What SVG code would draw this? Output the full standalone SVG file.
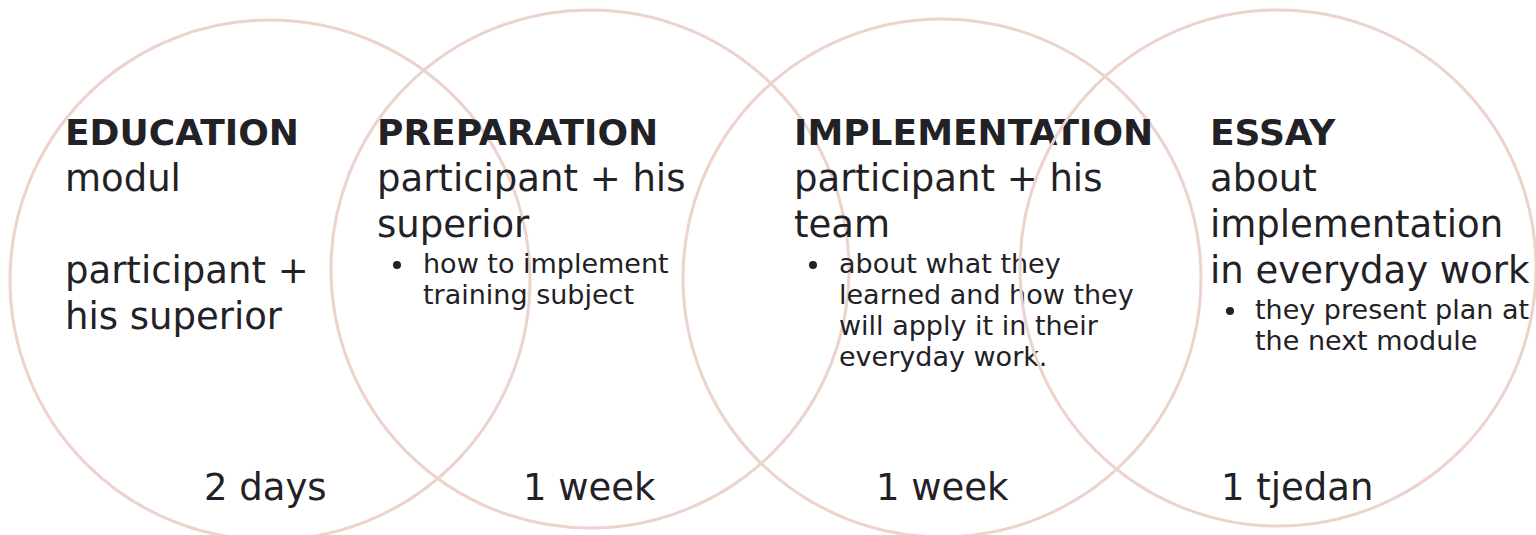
<svg xmlns="http://www.w3.org/2000/svg" width="1536" height="535" viewBox="0 0 1536 535">
<style>
.ring{fill:none;stroke:#ecd3cc;stroke-width:3}
.t{font-family:"DejaVu Sans","Liberation Sans",sans-serif;fill:#222125}
.h{font-size:36px;font-weight:bold}
.b{font-size:37px}
.s{font-size:27px}
.dot{fill:#222125}
</style>
<rect width="1536" height="535" fill="#ffffff"/>
<g id="connectors"></g>
<g id="node-education">
<circle class="ring" cx="270" cy="280" r="260"/>
<text class="t h" x="65" y="145">EDUCATION</text>
<text class="t b" x="65" y="191">modul</text>
<text class="t b" x="65" y="283">participant +</text>
<text class="t b" x="65" y="329">his superior</text>
<text class="t b" x="204" y="500">2 days</text>
</g>
<g id="node-preparation">
<circle class="ring" cx="590" cy="269" r="259"/>
<text class="t h" x="377" y="145">PREPARATION</text>
<text class="t b" x="377" y="191">participant + his</text>
<text class="t b" x="377" y="237">superior</text>
<circle class="dot" cx="397" cy="265" r="4"/>
<text class="t s" x="423" y="273">how to implement</text>
<text class="t s" x="423" y="304">training subject</text>
<text class="t b" x="523" y="500">1 week</text>
</g>
<g id="node-implementation">
<circle class="ring" cx="942" cy="278" r="259"/>
<text class="t h" x="794" y="145">IMPLEMENTATION</text>
<text class="t b" x="794" y="191">participant + his</text>
<text class="t b" x="794" y="237">team</text>
<circle class="dot" cx="813" cy="265" r="4"/>
<text class="t s" x="839" y="273">about what they</text>
<text class="t s" x="839" y="304">learned and how they</text>
<text class="t s" x="839" y="335">will apply it in their</text>
<text class="t s" x="839" y="366">everyday work.</text>
<text class="t b" x="876" y="500">1 week</text>
</g>
<g id="node-essay">
<circle class="ring" cx="1278" cy="268" r="258"/>
<text class="t h" x="1210" y="145">ESSAY</text>
<text class="t b" x="1210" y="191">about</text>
<text class="t b" x="1210" y="237">implementation</text>
<text class="t b" x="1210" y="283">in everyday work</text>
<circle class="dot" cx="1230" cy="311" r="4"/>
<text class="t s" x="1255" y="319">they present plan at</text>
<text class="t s" x="1255" y="350">the next module</text>
<text class="t b" x="1221" y="500">1 tjedan</text>
</g>
</svg>
